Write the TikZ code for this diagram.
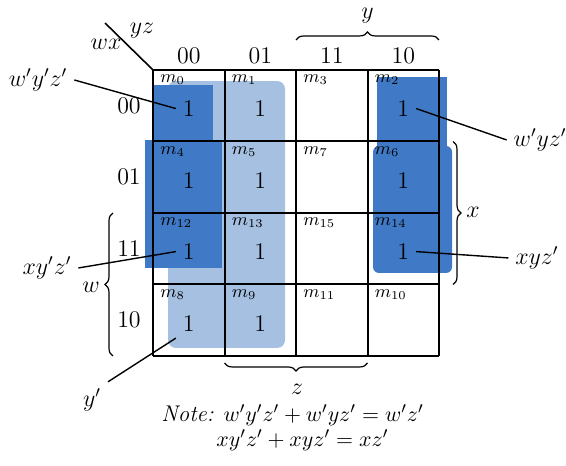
\documentclass[tikz,border=0pt]{standalone}
\definecolor{MapLight}{RGB}{166,192,226}
\definecolor{MapDark}{RGB}{64,122,198}
\usepackage{amsmath}
\usetikzlibrary{positioning,calc,decorations.pathreplacing}

\begin{document}
\begin{tikzpicture}[scale=1.26,
  cell/.style={font=\large},
  mlabel/.style={font=\small,anchor=north west,inner sep=1pt},
  notetext/.style={font=\fontsize{11.4}{13}\selectfont,inner sep=0pt},
  brace/.style={decorate,decoration={brace,amplitude=4pt},line width=0.6pt}]
\useasboundingbox (-2.14,-1.538) rectangle (5.776,4.979);
% groups: y' (light), w'z' and xz' (dark)
\fill[MapLight,rounded corners=4pt] (0.21,0.112) rectangle (1.846,3.846);
\fill[MapDark] (0,2.04) rectangle (0.839,3.79);
\fill[MapDark] (-0.112,1.23) rectangle (0.965,3.02);
\fill[MapDark] (3.133,2.04) rectangle (4.112,3.902);
\fill[MapDark,rounded corners=3pt] (3.077,1.161) rectangle (4.182,2.937);
% map
\draw[line width=1pt] (0,0) grid (4,4);
\coordinate (corner) at (0,4);
\draw[line width=0.8pt] (corner) -- (-0.671,4.657);
\node[cell] (yz) at (-0.154,4.545) {$yz$};
\node[cell] (wx) at (-0.657,4.364) {$wx$};
\foreach \t [count=\j from 0] in {00,01,11,10}
  \node[cell] (col\t) at (\j+0.5,4.196) {\t};
\foreach \t [count=\i from 0] in {00,01,11,10}
  \node[cell] (row\t) at (-0.336,3.5-\i) {\t};
% minterms
\foreach \m/\c/\r in {0/0/3,1/1/3,3/2/3,2/3/3,4/0/2,5/1/2,7/2/2,6/3/2,
  12/0/1,13/1/1,15/2/1,14/3/1,8/0/0,9/1/0,11/2/0,10/3/0}
  \node[mlabel] (m\m) at (\c+0.07,\r+0.96) {$m_{\m}$};
\foreach \m/\c/\r in {0/0/3,1/1/3,2/3/3,4/0/2,5/1/2,6/3/2,
  12/0/1,13/1/1,14/3/1,8/0/0,9/1/0}
  \node[cell] (one\m) at (\c+0.5,\r+0.46) {1};
% braces
\draw[brace] (2,4.42) -- (4,4.42);
\node[cell] (ylab) at (3,4.755) {$y$};
\draw[brace] (4.196,3) -- (4.196,1);
\node[cell] (xlab) at (4.475,2.014) {$x$};
\draw[brace] (3,-0.098) -- (1,-0.098);
\node[cell] (zlab) at (2.014,-0.46) {$z$};
\draw[brace] (-0.56,0) -- (-0.56,2);
\node[cell] (wlab) at (-0.867,0.965) {$w$};
% callouts
\node[cell] (wpypzp) at (-1.608,3.86) {$w'y'z'$};
\node[cell] (wpyzp) at (5.413,3.021) {$w'yz'$};
\node[cell] (xypzp) at (-1.483,1.231) {$xy'z'$};
\node[cell] (xyzp) at (5.37,1.371) {$xyz'$};
\node[cell] (yp) at (-0.853,-0.615) {$y'$};
\draw[line width=0.7pt] (wpypzp.east) -- (one0.west);
\draw[line width=0.7pt] (one2.east) -- (wpyzp.west);
\draw[line width=0.7pt] (xypzp.east) -- (one12.west);
\draw[line width=0.7pt] (one14.east) -- (xyzp.west);
\draw[line width=0.7pt] (yp.north east) -- (one8.south west);
% note
\node[notetext] (note1) at (1.951,-0.83) {\textit{Note:} $w'y'z' + w'yz' = w'z'$};
\node[notetext] (note2) at (2.09,-1.18) {$xy'z' + xyz' = xz'$};
\end{tikzpicture}
\end{document}
